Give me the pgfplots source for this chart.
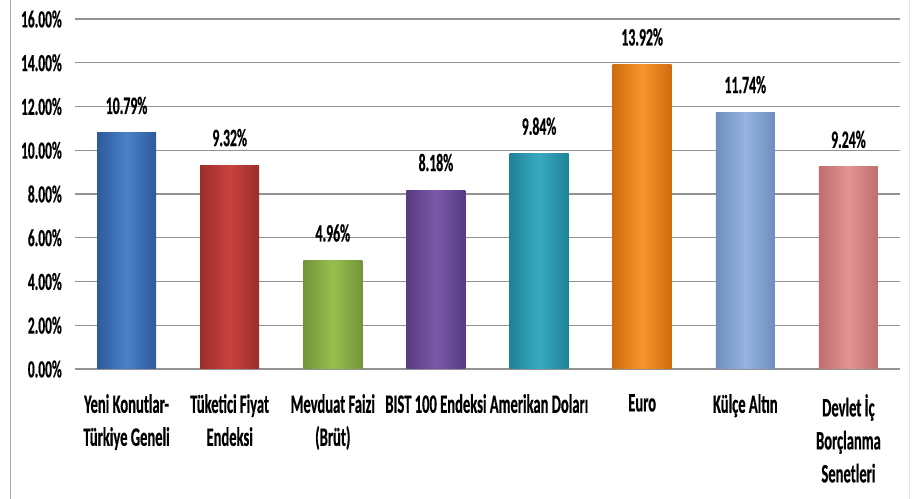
\documentclass[border=0pt]{standalone}
\usepackage{fontspec}
\setmainfont{Carlito}[FakeStretch=0.55, FakeBold=0.5]
\usepackage{pgfplots}
\pgfplotsset{compat=1.18}

% bar colours: edge / middle
\definecolor{c1e}{HTML}{2D5A9C}\definecolor{c1m}{HTML}{4A80C8}
\definecolor{c2e}{HTML}{9C2D2A}\definecolor{c2m}{HTML}{C8433F}
\definecolor{c3e}{HTML}{72953A}\definecolor{c3m}{HTML}{98BE4E}
\definecolor{c4e}{HTML}{573C80}\definecolor{c4m}{HTML}{7A58A8}
\definecolor{c5e}{HTML}{1F8298}\definecolor{c5m}{HTML}{38AAC2}
\definecolor{c6e}{HTML}{CF6C0F}\definecolor{c6m}{HTML}{F7952C}
\definecolor{c7e}{HTML}{6F8EBF}\definecolor{c7m}{HTML}{96B3E0}
\definecolor{c8e}{HTML}{BE6E6C}\definecolor{c8m}{HTML}{E29593}

\begin{document}
\begin{tikzpicture}
  \useasboundingbox (0,0) rectangle (915bp,499bp);
  \fill[white] (0,0) rectangle (915bp,499bp);
  \draw[gray!70, line width=1pt] (10bp,0) -- (10bp,499bp);
  \draw[gray!20, line width=1pt] (909bp,0) -- (909bp,499bp);

  \begin{axis}[
    at={(75bp,130bp)}, anchor=south west,
    scale only axis,
    width=825bp, height=350bp,
    xmin=-0.5, xmax=7.5,
    ymin=0, ymax=16,
    ytick={0,2,...,16},
    xtick={0,...,7},
    xticklabels={Yeni Konutlar-\\Türkiye Geneli, Tüketici Fiyat\\Endeksi,
      Mevduat Faizi\\(Brüt), BIST 100 Endeksi, Amerikan Doları, Euro,
      Külçe Altın, Devlet İç\\Borçlanma\\Senetleri},
    xticklabel style={align=center, anchor=north, inner sep=0pt, yshift=-25bp,
      font=\fontsize{26.5bp}{33bp}\selectfont\bfseries},
    yticklabel={\pgfmathprintnumber[fixed,fixed zerofill,precision=2]{\tick}\%},
    yticklabel style={anchor=east, inner sep=0pt, xshift=-13bp,
      font=\fontsize{24.5bp}{26bp}\selectfont\bfseries},
    /pgf/number format/assume math mode=true,
    axis line style={draw=none},
    major tick length=0pt,
    ymajorgrids,
    major grid style={color=gray!85, line width=1.4bp},
    ybar, bar width=59bp,
    nodes near coords={\pgfmathprintnumber[fixed,fixed zerofill,precision=2]{\pgfplotspointmeta}\%},
    nodes near coords style={anchor=base, inner sep=0pt, yshift=19bp,
      font=\fontsize{25bp}{26bp}\selectfont\bfseries, text=black},
    clip=false,
  ]
    \addplot[bar shift=0pt, draw=none, left color=c1e, right color=c1e, middle color=c1m] coordinates {(0,10.79)};
    \addplot[bar shift=0pt, draw=none, left color=c2e, right color=c2e, middle color=c2m] coordinates {(1,9.32)};
    \addplot[bar shift=0pt, draw=none, left color=c3e, right color=c3e, middle color=c3m] coordinates {(2,4.96)};
    \addplot[bar shift=0pt, draw=none, left color=c4e, right color=c4e, middle color=c4m] coordinates {(3,8.18)};
    \addplot[bar shift=0pt, draw=none, left color=c5e, right color=c5e, middle color=c5m] coordinates {(4,9.84)};
    \addplot[bar shift=0pt, draw=none, left color=c6e, right color=c6e, middle color=c6m] coordinates {(5,13.92)};
    \addplot[bar shift=0pt, draw=none, left color=c7e, right color=c7e, middle color=c7m] coordinates {(6,11.74)};
    \addplot[bar shift=0pt, draw=none, left color=c8e, right color=c8e, middle color=c8m] coordinates {(7,9.24)};
  \end{axis}
\end{tikzpicture}
\end{document}
